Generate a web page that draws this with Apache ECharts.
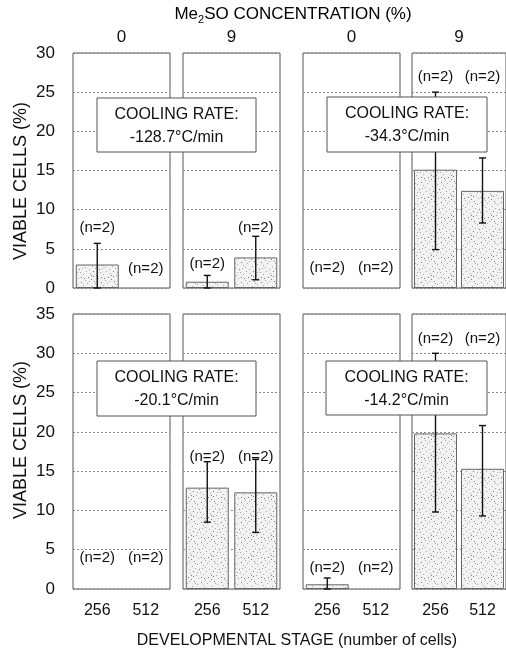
<!DOCTYPE html>
<html><head><meta charset="utf-8">
<script src="https://cdn.jsdelivr.net/npm/echarts@6/dist/echarts.min.js"></script>
<style>html,body{margin:0;padding:0;background:#fff}#c{width:506px;height:651px}</style>
</head><body><div id="c"></div>
<script>
// ---------- data ----------
const stages = ['256', '512'];
const concentrations = ['0', '9', '0', '9'];
const coolingRates = ['-128.7°C/min', '-34.3°C/min', '-20.1°C/min', '-14.2°C/min'];
const yTicksTop = [0, 5, 10, 15, 20, 25, 30];
const yTicksBottom = [0, 5, 10, 15, 20, 25, 30, 35];
// viable cells (%) per panel, [256, 512]; null = no bar
const meansTop = [[3.0, null], [0.8, 3.9], [null, null], [15.1, 12.4]];
const errHighTop = [[5.7, null], [1.6, 6.6], [null, null], [25.0, 16.6]];
const errLowTop = [[0, null], [0, 1.05], [null, null], [4.9, 8.3]];
const meansBottom = [[null, null], [12.9, 12.3], [0.6, null], [19.8, 15.3]];
const errHighBottom = [[null, null], [16.2, 16.5], [1.4, null], [30.0, 20.8]];
const errLowBottom = [[null, null], [8.5, 7.2], [0, null], [9.8, 9.3]];
const nText = '(n=2)';

// ---------- layout (not data) ----------
const FONT = '"Liberation Sans", Arial, Helvetica, sans-serif';
const colLeft = [73, 183, 303, 412];
const colWidth = 97;
const rowTop = [53, 314];
const rowHeight = [235, 275];
const nLabelYTop = [[7.7, 2.5], [3.1, 7.7], [2.6, 2.6], [26.9, 26.9]];
const nLabelYBottom = [[3.9, 3.9], [16.8, 16.8], [2.7, 2.7], [31.8, 31.8]];
const boxes = [
  { x: 97, y: 98, w: 159, h: 54 },
  { x: 327, y: 97, w: 160, h: 55 },
  { x: 97, y: 361, w: 159, h: 55 },
  { x: 326, y: 361, w: 161, h: 54 }
];

// stipple pattern
const tile = document.createElement('canvas');
tile.width = 20; tile.height = 20;
(function () {
  const g = tile.getContext('2d');
  g.fillStyle = '#f2f2f2'; g.fillRect(0, 0, 20, 20);
  const dots = [[1,2],[5,7],[9,1],[13,11],[17,4],[3,14],[8,17],[12,6],[16,15],[19,9],
                [6,11],[10,13],[14,1],[2,8],[18,18],[11,19],[7,3],[15,8],[4,18],[0,12],
                [9,9],[13,16],[17,12],[5,0],[1,17],[3,5],[15,3],[11,15]];
  dots.forEach((d, k) => { g.fillStyle = k % 3 === 0 ? '#7a7a7a' : '#a8a8a8'; g.fillRect(d[0], d[1], 1, 1); });
})();
const stipple = { image: tile, repeat: 'repeat' };

const grids = [], xAxes = [], yAxes = [], series = [];
const rows = [
  { means: meansTop, hi: errHighTop, lo: errLowTop, nY: nLabelYTop, max: 30, ticks: yTicksTop },
  { means: meansBottom, hi: errHighBottom, lo: errLowBottom, nY: nLabelYBottom, max: 35, ticks: yTicksBottom }
];
rows.forEach((row, r) => {
  for (let c = 0; c < 4; c++) {
    const p = r * 4 + c;
    grids.push({ left: colLeft[c], top: rowTop[r], width: colWidth, height: rowHeight[r],
      show: true, borderColor: '#555', borderWidth: 1, backgroundColor: 'transparent' });
    xAxes.push({
      gridIndex: p, type: 'category', data: stages,
      position: r === 0 ? 'top' : 'bottom',
      axisLine: { show: false }, axisTick: { show: false },
      axisLabel: { show: r === 1, fontFamily: FONT, fontSize: 16, color: '#111', margin: 14 },
      name: r === 0 ? concentrations[c] : '', nameLocation: 'middle', nameGap: 7,
      nameTextStyle: { fontFamily: FONT, fontSize: 17, color: '#111' }
    });
    yAxes.push({
      gridIndex: p, type: 'value', min: 0, max: row.max, interval: 5,
      axisLine: { show: false }, axisTick: { show: false },
      axisLabel: { show: c === 0, fontFamily: FONT, fontSize: 17, color: '#111', margin: 18 },
      splitLine: { show: true, lineStyle: { color: '#8a8a8a', type: [2, 2], width: 1 } }
    });
    series.push({
      type: 'bar', xAxisIndex: p, yAxisIndex: p, barWidth: 43,
      data: row.means[c].map(v => v === null ? '-' : v),
      itemStyle: { color: stipple, borderColor: '#666', borderWidth: 1 },
      z: 2
    });
    const errData = [];
    row.hi[c].forEach((h, i) => { if (h !== null) errData.push([i, row.lo[c][i], h]); });
    series.push({
      type: 'custom', xAxisIndex: p, yAxisIndex: p, data: errData, z: 3,
      renderItem: function (params, api) {
        const i = api.value(0);
        const a = api.coord([i, api.value(2)]);
        const b = api.coord([i, api.value(1)]);
        const w = 3.5;
        const st = { stroke: '#111', lineWidth: 1.4 };
        return { type: 'group', children: [
          { type: 'line', shape: { x1: a[0], y1: a[1], x2: b[0], y2: b[1] }, style: st },
          { type: 'line', shape: { x1: a[0] - w, y1: a[1], x2: a[0] + w, y2: a[1] }, style: st },
          { type: 'line', shape: { x1: b[0] - w, y1: b[1], x2: b[0] + w, y2: b[1] }, style: st }
        ]};
      }
    });
    series.push({
      type: 'scatter', xAxisIndex: p, yAxisIndex: p, symbolSize: 0,
      itemStyle: { color: '#111', opacity: 1 }, z: 4,
      emphasis: { disabled: true },
      data: row.nY[c].map((y, i) => [i, y]),
      label: { show: true, position: 'inside', formatter: nText, opacity: 1,
        fontFamily: FONT, fontSize: 15, color: '#111', textBorderWidth: 0 }
    });
  }
});

const graphic = [];
boxes.forEach((b, k) => {
  graphic.push({ type: 'rect', z: 100, shape: { x: b.x, y: b.y, width: b.w, height: b.h },
    style: { fill: '#fff', stroke: '#555', lineWidth: 1 } });
  graphic.push({ type: 'text', z: 101, x: b.x + b.w / 2, y: b.y + b.h / 2 + 1,
    style: { text: 'COOLING RATE:\n' + coolingRates[k], align: 'center', verticalAlign: 'middle',
      fontFamily: FONT, fontSize: 16, lineHeight: 23, fill: '#111' } });
});
graphic.push({ type: 'text', x: 293, y: 14,
  style: { text: '{a|Me}{s|2}{a|SO CONCENTRATION (%)}', align: 'center', verticalAlign: 'middle',
    rich: { a: { fontFamily: FONT, fontSize: 17, color: '#111', lineHeight: 22, verticalAlign: 'middle' },
            s: { fontFamily: FONT, fontSize: 11, color: '#111', lineHeight: 11, verticalAlign: 'bottom' } } } });
graphic.push({ type: 'text', x: 297, y: 641,
  style: { text: 'DEVELOPMENTAL STAGE (number of cells)', align: 'center', verticalAlign: 'middle',
    fontFamily: FONT, fontSize: 16, fill: '#111' } });
graphic.push({ type: 'text', x: 21, y: 181, rotation: Math.PI / 2,
  style: { text: 'VIABLE CELLS (%)', align: 'center', verticalAlign: 'middle',
    fontFamily: FONT, fontSize: 18, fill: '#111' } });
graphic.push({ type: 'text', x: 21, y: 440, rotation: Math.PI / 2,
  style: { text: 'VIABLE CELLS (%)', align: 'center', verticalAlign: 'middle',
    fontFamily: FONT, fontSize: 18, fill: '#111' } });

const chart = echarts.init(document.getElementById('c'), null, { renderer: 'canvas' });
chart.setOption({
  animation: false, backgroundColor: '#fff',
  grid: grids, xAxis: xAxes, yAxis: yAxes, series: series, graphic: graphic
});
</script></body></html>
